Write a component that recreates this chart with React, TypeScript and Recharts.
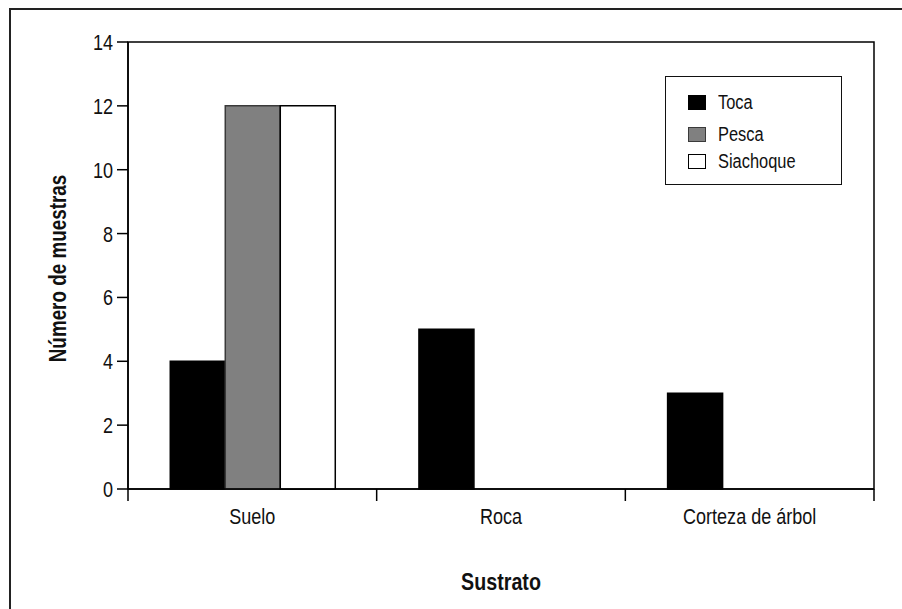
import React from 'react';
import { BarChart, Bar, XAxis, YAxis, Legend, ReferenceArea } from 'recharts';

const categories = ['Suelo', 'Roca', 'Corteza de árbol'];
const toca = [4, 5, 3];
const pesca = [12, 0, 0];
const siachoque = [12, 0, 0];
const yTicks = [0, 2, 4, 6, 8, 10, 12, 14];
const seriesNames = ['Toca', 'Pesca', 'Siachoque'];
const xTitle = 'Sustrato';
const yTitle = 'Número de muestras';

const data = categories.map((c, i) => ({
  name: c,
  toca: toca[i],
  pesca: pesca[i],
  siachoque: siachoque[i],
}));

const FONT = "'Liberation Sans', Arial, sans-serif";
const NARROW = 0.82;

const W = 902;
const H = 609;
const MARGIN = { top: 42, right: 28, bottom: 0, left: 0 };
const Y_AXIS_W = 128;
const X_AXIS_H = 120;
const TICK_SIZE = 12;
const BAND = (W - MARGIN.left - MARGIN.right - Y_AXIS_W) / categories.length;

const seriesStyle = [
  { key: 'toca', fill: '#000000', stroke: '#000000' },
  { key: 'pesca', fill: '#808080', stroke: '#3a3a3a' },
  { key: 'siachoque', fill: '#ffffff', stroke: '#000000' },
];

const NarrowText = (props: {
  x: number;
  y: number;
  anchor: 'start' | 'middle' | 'end';
  size: number;
  bold?: boolean;
  rotate?: boolean;
  children: React.ReactNode;
}) => {
  const { x, y, anchor, size, bold, rotate, children } = props;
  return (
    <g transform={`translate(${x},${y})${rotate ? ' rotate(-90)' : ''} scale(${NARROW},1)`}>
      <text
        x={0}
        y={0}
        textAnchor={anchor}
        fontFamily={FONT}
        fontSize={size}
        fontWeight={bold ? 'bold' : 'normal'}
        fill="#111"
      >
        {children}
      </text>
    </g>
  );
};

const XTick = (props: any) => {
  const { x, y, payload, index } = props;
  const axisY = y - TICK_SIZE;
  const isLast = index === categories.length - 1;
  return (
    <g>
      <line x1={x - BAND / 2} x2={x - BAND / 2} y1={axisY} y2={axisY + TICK_SIZE} stroke="#000" strokeWidth={1.5} />
      {isLast && (
        <line x1={x + BAND / 2} x2={x + BAND / 2} y1={axisY} y2={axisY + TICK_SIZE} stroke="#000" strokeWidth={1.5} />
      )}
      <NarrowText x={x} y={axisY + 35} anchor="middle" size={22}>
        {payload.value}
      </NarrowText>
    </g>
  );
};

const YTick = (props: any) => {
  const { x, y, payload } = props;
  return (
    <NarrowText x={x} y={y + 8} anchor="end" size={22}>
      {payload.value}
    </NarrowText>
  );
};

const renderLegend = () => (
  <div
    style={{
      width: 177,
      height: 109,
      border: '1.5px solid #111',
      boxSizing: 'border-box',
      background: '#fff',
      position: 'relative',
      fontFamily: FONT,
    }}
  >
    {seriesNames.map((n, i) => (
      <div
        key={n}
        style={{
          position: 'absolute',
          left: 22,
          top: [16, 48, 75][i],
          display: 'flex',
          alignItems: 'center',
          height: 18,
        }}
      >
        <div
          style={{
            width: 18,
            height: 15,
            background: seriesStyle[i].fill,
            border: `1px solid ${seriesStyle[i].stroke}`,
            boxSizing: 'border-box',
          }}
        />
        <span
          style={{
            marginLeft: 12,
            fontSize: 20,
            color: '#111',
            lineHeight: '18px',
            display: 'inline-block',
            transform: `scaleX(${NARROW})`,
            transformOrigin: 'left center',
            whiteSpace: 'nowrap',
          }}
        >
          {n}
        </span>
      </div>
    ))}
  </div>
);

export default function App() {
  return (
    <div style={{ position: 'absolute', left: 0, top: 0, width: W, height: H, overflow: 'hidden', background: '#fff' }}>
      <div
        style={{
          position: 'absolute',
          left: 9,
          top: 8,
          width: 2000,
          height: 2000,
          borderLeft: '2px solid #222',
          borderTop: '2px solid #222',
        }}
      />
      <div style={{ position: 'absolute', left: 0, top: 0 }}>
        <BarChart width={W} height={H} data={data} margin={MARGIN} barCategoryGap="17%" barGap={0}>
          <ReferenceArea y1={0} y2={14} fill="none" stroke="#000" strokeWidth={1.5} ifOverflow="visible" />
          <XAxis
            dataKey="name"
            height={X_AXIS_H}
            axisLine={{ stroke: '#000', strokeWidth: 1.5 }}
            tickLine={false}
            tickSize={TICK_SIZE}
            tickMargin={0}
            interval={0}
            tick={<XTick />}
            label={{
              content: (p: any) => {
                const vb = p.viewBox || {};
                return (
                  <NarrowText x={vb.x + vb.width / 2} y={vb.y + 101} anchor="middle" size={24} bold>
                    {xTitle}
                  </NarrowText>
                );
              },
            }}
          />
          <YAxis
            width={Y_AXIS_W}
            domain={[0, 14]}
            ticks={yTicks}
            interval={0}
            axisLine={{ stroke: '#000', strokeWidth: 1.5 }}
            tickLine={{ stroke: '#000', strokeWidth: 1.5 }}
            tickSize={11}
            tickMargin={4}
            tick={<YTick />}
            label={{
              content: (p: any) => {
                const vb = p.viewBox || {};
                return (
                  <NarrowText x={vb.x + 66} y={vb.y + vb.height / 2 + 3} anchor="middle" size={23} bold rotate>
                    {yTitle}
                  </NarrowText>
                );
              },
            }}
          />
          <Legend
            layout="horizontal"
            verticalAlign="middle"
            align="center"
            content={renderLegend}
            wrapperStyle={{ position: 'absolute', left: 665, top: 76, width: 177, height: 109 }}
          />
          {seriesStyle.map((s, i) => (
            <Bar
              key={s.key}
              dataKey={s.key}
              name={seriesNames[i]}
              fill={s.fill}
              stroke={s.stroke}
              strokeWidth={1.5}
              isAnimationActive={false}
            />
          ))}
        </BarChart>
      </div>
    </div>
  );
}
